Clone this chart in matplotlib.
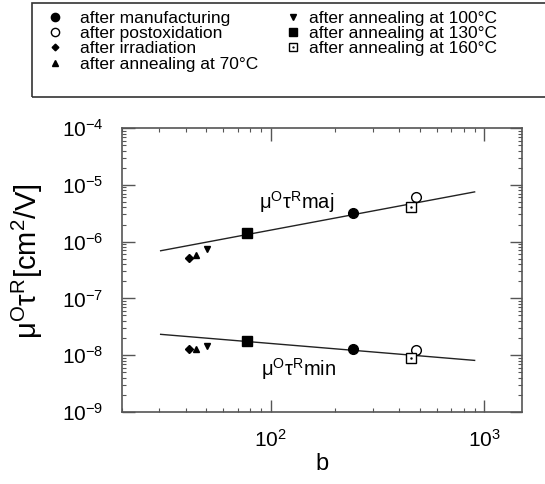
import numpy as np
import matplotlib
matplotlib.use('Agg')
import matplotlib.pyplot as plt
from matplotlib.patches import Rectangle

plt.rcParams['font.family'] = ['Liberation Sans', 'DejaVu Sans']
plt.rcParams['mathtext.fontset'] = 'custom'
plt.rcParams['mathtext.rm'] = 'Liberation Sans'
plt.rcParams['mathtext.it'] = 'Liberation Sans'

# b values and mu*tau products (majority / minority carriers)
b_manuf, maj_manuf, min_manuf = 242, 3.2e-6, 1.26e-8
b_postox, maj_postox, min_postox = 476, 6.0e-6, 1.22e-8
b_irr, maj_irr, min_irr = 41.5, 5.2e-7, 1.26e-8
b_70, maj_70, min_70 = 44.5, 5.7e-7, 1.30e-8
b_100, maj_100, min_100 = 50.4, 7.4e-7, 1.46e-8
b_130, maj_130, min_130 = 77, 1.44e-6, 1.78e-8
b_160, maj_160, min_160 = 451, 4.1e-6, 9.1e-9

fit_b = [30.5, 900]
fit_maj = [6.9e-7, 7.5e-6]
fit_min = [2.33e-8, 8.1e-9]

W, H = 545, 484
fig = plt.figure(figsize=(W / 100, H / 100), dpi=100)
ax = fig.add_axes([121.5/W, 1 - 412/H, (522 - 121.5)/W, (412 - 128)/H])

ax.plot(fit_b, fit_maj, color='#222222', lw=1.0)
ax.plot(fit_b, fit_min, color='#222222', lw=1.0)

h1, = ax.plot([b_manuf] * 2, [maj_manuf, min_manuf], 'o', color='black', ms=7, ls='none')
h2, = ax.plot([b_postox] * 2, [maj_postox, min_postox], 'o', mfc='white', mec='black', mew=1.0, ms=7, ls='none')
h3, = ax.plot([b_irr] * 2, [maj_irr, min_irr], 'D', color='black', ms=4, ls='none')
h4, = ax.plot([b_70] * 2, [maj_70, min_70], '^', color='black', ms=5, ls='none')
h5, = ax.plot([b_100] * 2, [maj_100, min_100], 'v', color='black', ms=5, ls='none')
h6, = ax.plot([b_130] * 2, [maj_130, min_130], 's', color='black', ms=6.5, ls='none')
h7, = ax.plot([b_160] * 2, [maj_160, min_160], 's', mfc='white', mec='black', mew=1.0, ms=7, ls='none')
h7d, = ax.plot([b_160] * 2, [maj_160, min_160], '.', color='black', ms=1.5, ls='none')

ax.set_xscale('log')
ax.set_yscale('log')
ax.set_xlim(20, 1500)
ax.set_ylim(1e-9, 1e-4)
ax.set_yticks([1e-9, 1e-8, 1e-7, 1e-6, 1e-5, 1e-4])
ax.set_xticks([1e2, 1e3])

for s in ax.spines.values():
    s.set_color('#555555')
    s.set_linewidth(1.2)
ax.tick_params(which='both', direction='in', top=True, right=True, colors='#555555', labelcolor='black')
ax.tick_params(which='major', length=9, width=1.0, labelsize=15)
ax.tick_params(axis='y', which='major', pad=13)
ax.tick_params(axis='x', which='major', pad=12)
ax.tick_params(which='minor', length=3, width=0.8)

ax.set_xlabel('b', fontsize=17, labelpad=2)
ax.set_ylabel(r'$\mathrm{\mu^O\tau^R[cm^2/V]}$', fontsize=21)
ax.yaxis.set_label_coords(-0.19, 0.53)

ax.text(132, 5.0e-6, r'$\mathrm{\mu^O\tau^R maj}$', fontsize=14.5, ha='center', va='center')
ax.text(135, 5.8e-9, r'$\mathrm{\mu^O\tau^R min}$', fontsize=14.5, ha='center', va='center')

# legend: two columns placed separately, one frame around both
leg_kw = dict(loc='upper left', fontsize=12.5, markerscale=0.85, frameon=False,
              borderpad=0, labelspacing=0.0, handlelength=1.0, borderaxespad=0)
leg1 = fig.legend([h1, h2, h3, h4],
                  ['after manufacturing', 'after postoxidation', 'after irradiation',
                   'after annealing at 70°C'],
                  bbox_to_anchor=(46.3/W, 1 - 11/H), handletextpad=0.95, **leg_kw)
leg2 = fig.legend([h5, h6, (h7, h7d)],
                  ['after annealing at 100°C', 'after annealing at 130°C',
                   'after annealing at 160°C'],
                  bbox_to_anchor=(284.3/W, 1 - 11/H), handletextpad=0.45, **leg_kw)
fig.add_artist(Rectangle((32/W, 1 - 97/H), 540/W, 94/H, transform=fig.transFigure,
                         fill=False, edgecolor='#333333', lw=1.2, clip_on=False))

fig.savefig('out.png', dpi=100)
